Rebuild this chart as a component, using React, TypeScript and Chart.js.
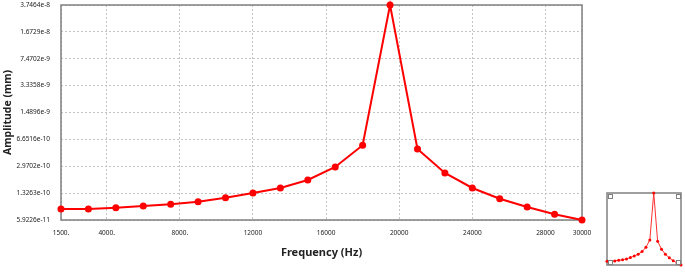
import { useEffect, useRef } from "react";
import { Chart, registerables } from "chart.js";

Chart.register(...registerables);

const frequencies = [1500, 3000, 4500, 6000, 7500, 9000, 10500, 12000, 13500, 15000, 16500, 18000, 19500, 21000, 22500, 24000, 25500, 27000, 28500, 30000];
const amplitudes = [8.24e-11, 8.24e-11, 8.56e-11, 9.01e-11, 9.49e-11, 1.025e-10, 1.156e-10, 1.331e-10, 1.547e-10, 1.966e-10, 2.904e-10, 5.57e-10, 3.7464e-8, 4.983e-10, 2.426e-10, 1.547e-10, 1.122e-10, 8.75e-11, 7.03e-11, 5.9226e-11];
const xTicks = [1500, 4000, 8000, 12000, 16000, 20000, 24000, 28000, 30000];
const xTickLabels = ["1500.", "4000.", "8000.", "12000", "16000", "20000", "24000", "28000", "30000"];
const yTicks = [5.9226e-11, 1.3263e-10, 2.9702e-10, 6.6516e-10, 1.4896e-9, 3.3358e-9, 7.4702e-9, 1.6729e-8, 3.7464e-8];
const yTickLabels = ["5.9226e-11", "1.3263e-10", "2.9702e-10", "6.6516e-10", "1.4896e-9", "3.3358e-9", "7.4702e-9", "1.6729e-8", "3.7464e-8"];
const xTitle = "Frequency (Hz)";
const yTitle = "Amplitude (mm)";

const FONT = "'Noto Sans', 'DejaVu Sans', sans-serif";

const frameBorder = {
  id: "frameBorder",
  beforeDatasetsDraw(chart: any) {
    const { ctx, chartArea: a } = chart;
    ctx.save();
    ctx.strokeStyle = "#808080";
    ctx.lineWidth = 1.5;
    ctx.strokeRect(a.left, a.top, a.right - a.left, a.bottom - a.top);
    ctx.restore();
  },
};

const cornerBoxes = {
  id: "cornerBoxes",
  afterDraw(chart: any) {
    const { ctx, chartArea: a } = chart;
    const s = 4;
    ctx.save();
    ctx.strokeStyle = "#808080";
    ctx.lineWidth = 1;
    const pts = [
      [a.left + 1, a.top + 1],
      [a.right - 1 - s, a.top + 1],
      [a.left + 1, a.bottom - 1 - s],
      [a.right - 1 - s, a.bottom - 1 - s],
    ];
    for (const [x, y] of pts) {
      ctx.fillStyle = "#ffffff";
      ctx.fillRect(x, y, s, s);
      ctx.strokeRect(x + 0.5, y + 0.5, s, s);
    }
    ctx.restore();
  },
};

export default function App() {
  const mainRef = useRef<HTMLCanvasElement | null>(null);
  const insetRef = useRef<HTMLCanvasElement | null>(null);

  useEffect(() => {
    document.body.style.margin = "0";
    const points = frequencies.map((f, i) => ({ x: f, y: amplitudes[i] }));

    const main = new Chart(mainRef.current!, {
      type: "line",
      data: {
        datasets: [
          {
            data: points,
            borderColor: "#ff0000",
            backgroundColor: "#ff0000",
            borderWidth: 2,
            pointRadius: 3.5,
            pointBorderWidth: 0,
            pointBackgroundColor: "#ff0000",
            tension: 0,
            clip: false as any,
          },
        ],
      },
      options: {
        animation: false,
        responsive: false,
        devicePixelRatio: 1,
        layout: { padding: { top: 5, right: 18, left: 0, bottom: 0 } },
        plugins: { legend: { display: false }, tooltip: { enabled: false } },
        scales: {
          x: {
            type: "linear",
            min: 1500,
            max: 30000,
            afterBuildTicks: (scale: any) => {
              scale.ticks = xTicks.map((v) => ({ value: v }));
            },
            afterFit: (scale: any) => {
              scale.height = 53;
              scale.paddingLeft = 0;
              scale.paddingRight = 0;
            },
            ticks: {
              autoSkip: false,
              maxRotation: 0,
              padding: 9,
              color: "#222",
              font: { family: FONT, size: 6.5 },
              callback: (_v: any, i: number) => xTickLabels[i],
            },
            grid: { color: "#c4c4c4", lineWidth: 1, drawTicks: false },
            border: { display: false, dash: [2, 2] },
            title: {
              display: true,
              text: xTitle,
              color: "#222",
              font: { family: FONT, size: 11, weight: "bold" },
              padding: { top: 0, bottom: 14 },
            },
          },
          y: {
            type: "logarithmic",
            min: yTicks[0],
            max: yTicks[yTicks.length - 1],
            afterBuildTicks: (scale: any) => {
              scale.ticks = yTicks.map((v) => ({ value: v }));
            },
            afterFit: (scale: any) => {
              scale.width = 61;
              scale.paddingTop = 0;
              scale.paddingBottom = 0;
            },
            ticks: {
              autoSkip: false,
              padding: 11,
              color: "#222",
              font: { family: FONT, size: 6.5 },
              callback: (_v: any, i: number) => yTickLabels[i],
            },
            grid: { color: "#c4c4c4", lineWidth: 1, drawTicks: false },
            border: { display: false, dash: [2, 2] },
            title: {
              display: true,
              text: yTitle,
              color: "#222",
              font: { family: FONT, size: 10.5, weight: "bold" },
              padding: { top: 1.5, bottom: 0 },
            },
          },
        },
      },
      plugins: [frameBorder],
    });

    const inset = new Chart(insetRef.current!, {
      type: "line",
      data: {
        datasets: [
          {
            data: points,
            borderColor: "#ff3030",
            backgroundColor: "#ff0000",
            borderWidth: 1,
            pointRadius: 1.5,
            pointBorderWidth: 0,
            pointBackgroundColor: "#ff0000",
            tension: 0,
            clip: false as any,
          },
        ],
      },
      options: {
        animation: false,
        responsive: false,
        devicePixelRatio: 1,
        layout: { padding: { top: 8, right: 2, left: 7, bottom: 8 } },
        plugins: { legend: { display: false }, tooltip: { enabled: false } },
        scales: {
          x: { type: "linear", min: 1500, max: 30000, display: false },
          y: { type: "logarithmic", min: yTicks[0], max: yTicks[yTicks.length - 1], display: false },
        },
      },
      plugins: [frameBorder, cornerBoxes],
    });

    return () => {
      main.destroy();
      inset.destroy();
    };
  }, []);

  return (
    <div style={{ position: "relative", width: 685, height: 273, background: "#fff" }}>
      <canvas ref={mainRef} width={600} height={273} style={{ position: "absolute", left: 0, top: 0 }} />
      <canvas ref={insetRef} width={85} height={88} style={{ position: "absolute", left: 600, top: 185 }} />
    </div>
  );
}
